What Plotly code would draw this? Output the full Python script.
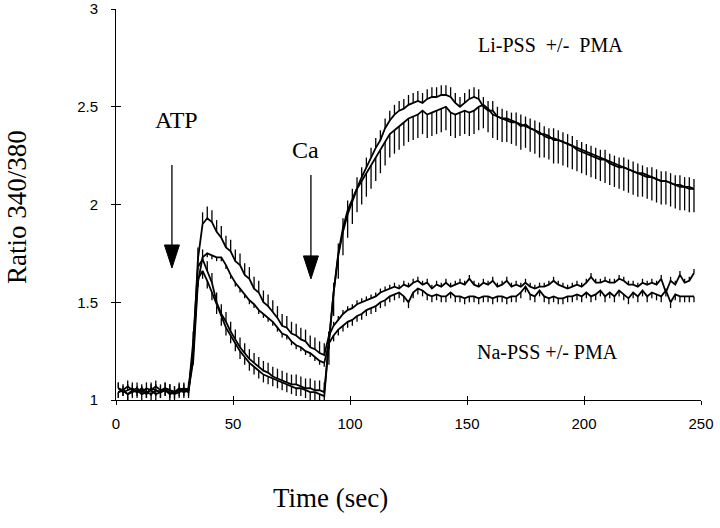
import numpy as np
import plotly.graph_objects as go

# ---------------- data (ratio 340/380, sampled every 2 s) ----------------
# segment start times (s)
seg_start = {"base": 1, "atp": 33, "ca": 91}

# Na-PSS, trace 1 (higher ATP peak, upper plateau)
na1_base = [1.06, 1.05, 1.07, 1.05, 1.06, 1.04, 1.06, 1.05, 1.07, 1.05, 1.06, 1.05, 1.04, 1.06, 1.05, 1.06]
na1_atp = [1.25, 1.72, 1.90, 1.93, 1.91, 1.86, 1.83, 1.78, 1.76, 1.71, 1.69, 1.64, 1.62, 1.57, 1.55,
           1.50, 1.48, 1.45, 1.42, 1.38, 1.37, 1.34, 1.33, 1.31, 1.30, 1.27, 1.26, 1.24, 1.23]
na1_ca = [1.33, 1.38, 1.41, 1.44, 1.46, 1.47, 1.49, 1.50, 1.51, 1.52, 1.53, 1.55, 1.56, 1.57, 1.58,
          1.57, 1.59, 1.58, 1.60, 1.61, 1.59, 1.60, 1.57, 1.59, 1.58, 1.60, 1.58, 1.59, 1.60, 1.59,
          1.62, 1.59, 1.58, 1.60, 1.59, 1.61, 1.58, 1.59, 1.61, 1.58, 1.59, 1.58, 1.60, 1.58, 1.57,
          1.58, 1.58, 1.59, 1.61, 1.59, 1.58, 1.57, 1.58, 1.59, 1.58, 1.60, 1.63, 1.60, 1.60, 1.61,
          1.60, 1.60, 1.62, 1.61, 1.59, 1.59, 1.58, 1.60, 1.59, 1.60, 1.59, 1.62, 1.55, 1.61, 1.59,
          1.64, 1.60, 1.61, 1.65]

# Na-PSS, trace 2
na2_base = [1.04, 1.05, 1.03, 1.05, 1.04, 1.06, 1.04, 1.03, 1.05, 1.04, 1.05, 1.03, 1.04, 1.05, 1.04, 1.05]
na2_atp = [1.20, 1.60, 1.73, 1.75, 1.74, 1.73, 1.73, 1.69, 1.64, 1.60, 1.57, 1.54, 1.51, 1.49, 1.46,
           1.44, 1.42, 1.40, 1.37, 1.34, 1.33, 1.30, 1.28, 1.27, 1.25, 1.24, 1.22, 1.20, 1.19]
na2_ca = [1.29, 1.33, 1.36, 1.38, 1.40, 1.41, 1.43, 1.44, 1.46, 1.47, 1.48, 1.50, 1.51, 1.53, 1.54,
          1.55, 1.53, 1.50, 1.55, 1.57, 1.56, 1.54, 1.53, 1.54, 1.53, 1.53, 1.55, 1.53, 1.53, 1.52,
          1.53, 1.53, 1.52, 1.53, 1.53, 1.52, 1.53, 1.53, 1.52, 1.53, 1.53, 1.55, 1.58, 1.54, 1.53,
          1.56, 1.53, 1.52, 1.53, 1.52, 1.52, 1.53, 1.53, 1.54, 1.53, 1.55, 1.53, 1.54, 1.56, 1.53,
          1.55, 1.53, 1.56, 1.54, 1.52, 1.55, 1.53, 1.56, 1.53, 1.55, 1.54, 1.53, 1.56, 1.50, 1.54,
          1.53, 1.53, 1.53, 1.53]

# Li-PSS, trace 1 (upper Ca plateau)
li1_base = [1.06, 1.04, 1.05, 1.06, 1.04, 1.05, 1.03, 1.06, 1.05, 1.04, 1.06, 1.05, 1.04, 1.05, 1.06, 1.05]
li1_atp = [1.30, 1.68, 1.72, 1.66, 1.60, 1.50, 1.44, 1.40, 1.35, 1.31, 1.27, 1.24, 1.21, 1.19, 1.17,
           1.15, 1.14, 1.12, 1.11, 1.10, 1.09, 1.08, 1.08, 1.07, 1.06, 1.06, 1.05, 1.05, 1.04]
li1_ca = [1.30, 1.55, 1.75, 1.88, 1.97, 2.03, 2.09, 2.14, 2.19, 2.24, 2.29, 2.33, 2.39, 2.43, 2.46,
          2.48, 2.49, 2.51, 2.52, 2.53, 2.52, 2.54, 2.55, 2.55, 2.56, 2.56, 2.55, 2.52, 2.50, 2.52,
          2.54, 2.55, 2.54, 2.50, 2.48, 2.48, 2.45, 2.44, 2.43, 2.42, 2.42, 2.41, 2.40, 2.39, 2.38,
          2.37, 2.35, 2.34, 2.34, 2.33, 2.32, 2.31, 2.30, 2.28, 2.27, 2.26, 2.25, 2.24, 2.23, 2.23,
          2.21, 2.20, 2.19, 2.19, 2.18, 2.17, 2.16, 2.15, 2.14, 2.14, 2.13, 2.12, 2.12, 2.11, 2.10,
          2.10, 2.09, 2.09, 2.08]

# Li-PSS, trace 2 (lower Ca plateau)
li2_base = [1.04, 1.05, 1.03, 1.04, 1.05, 1.03, 1.04, 1.05, 1.03, 1.04, 1.05, 1.04, 1.03, 1.04, 1.05, 1.04]
li2_atp = [1.25, 1.62, 1.66, 1.61, 1.55, 1.48, 1.42, 1.37, 1.33, 1.29, 1.25, 1.22, 1.19, 1.17, 1.15,
           1.13, 1.12, 1.11, 1.10, 1.09, 1.08, 1.07, 1.06, 1.06, 1.05, 1.04, 1.04, 1.03, 1.02]
li2_ca = [1.30, 1.55, 1.74, 1.86, 1.95, 2.02, 2.08, 2.12, 2.16, 2.20, 2.24, 2.28, 2.32, 2.36, 2.38,
          2.40, 2.42, 2.44, 2.45, 2.46, 2.48, 2.46, 2.47, 2.48, 2.49, 2.50, 2.47, 2.46, 2.47, 2.48,
          2.47, 2.48, 2.50, 2.51, 2.49, 2.46, 2.45, 2.44, 2.44, 2.43, 2.42, 2.40, 2.41, 2.39, 2.38,
          2.36, 2.36, 2.35, 2.33, 2.33, 2.32, 2.31, 2.30, 2.29, 2.28, 2.27, 2.26, 2.25, 2.24, 2.23,
          2.22, 2.21, 2.20, 2.19, 2.18, 2.17, 2.16, 2.16, 2.15, 2.14, 2.13, 2.12, 2.12, 2.11, 2.10,
          2.09, 2.09, 2.08, 2.08]

# error bar sizes per segment (base, atp, ca): upward and downward
na1_err_up = [0.03, 0.06, 0.02]
na1_err_dn = [0.0, 0.0, 0.0]
na2_err_up = [0.0, 0.0, 0.0]
na2_err_dn = [0.03, 0.02, 0.03]
li1_err_up = [0.03, 0.05, 0.05]
li1_err_dn = [0.0, 0.0, 0.0]
li2_err_up = [0.0, 0.0, 0.0]
li2_err_dn = [0.03, 0.04, 0.12]

x_ticks = [0, 50, 100, 150, 200, 250]
y_ticks = [1, 1.5, 2, 2.5, 3]
y_tick_text = ["1", "1.5", "2", "2.5", "3"]


def assemble(base, atp, ca, up, dn):
    t, v, eu, ed = [], [], [], []
    for seg, vals, u, d in (("base", base, up[0], dn[0]), ("atp", atp, up[1], dn[1]), ("ca", ca, up[2], dn[2])):
        t0 = seg_start[seg]
        for k, val in enumerate(vals):
            t.append(t0 + 2 * k)
            v.append(val)
            eu.append(u)
            ed.append(d)
    return t, v, eu, ed


series = [
    assemble(na1_base, na1_atp, na1_ca, na1_err_up, na1_err_dn),
    assemble(na2_base, na2_atp, na2_ca, na2_err_up, na2_err_dn),
    assemble(li1_base, li1_atp, li1_ca, li1_err_up, li1_err_dn),
    assemble(li2_base, li2_atp, li2_ca, li2_err_up, li2_err_dn),
]

fig = go.Figure()
for t, v, eu, ed in series:
    fig.add_trace(go.Scatter(
        x=t, y=v, mode="lines",
        line=dict(color="black", width=1.8),
        error_y=dict(type="data", symmetric=False, array=eu, arrayminus=ed,
                     color="black", thickness=1.3, width=0, visible=True),
        showlegend=False, hoverinfo="skip",
    ))

# dummy trace to show the overlay axes that carry the inner tick halves
fig.add_trace(go.Scatter(x=[None], y=[None], xaxis="x2", yaxis="y2", showlegend=False, hoverinfo="skip"))

serif = "Liberation Serif, Times New Roman, serif"
sans = "Liberation Sans, Arial, sans-serif"

fig.update_layout(
    template="none",
    width=720, height=528,
    margin=dict(l=116, r=19, t=9, b=128, autoexpand=False),
    paper_bgcolor="white", plot_bgcolor="white",
    xaxis=dict(range=[0, 250], tickvals=x_ticks, ticks="outside", ticklen=4, tickwidth=1,
               tickcolor="black", showline=True, linecolor="black", linewidth=1,
               showgrid=False, zeroline=False, automargin=False,
               tickfont=dict(family=sans, size=15, color="black"), ticklabelstandoff=6),
    yaxis=dict(range=[1, 3], tickvals=y_ticks, ticktext=y_tick_text, ticks="outside", ticklen=4,
               tickwidth=1, tickcolor="black", showline=True, linecolor="black", linewidth=1,
               showgrid=False, zeroline=False, automargin=False,
               tickfont=dict(family=sans, size=15, color="black"), ticklabelstandoff=10),
    xaxis2=dict(range=[0, 250], overlaying="x", anchor="y", side="bottom", tickvals=x_ticks,
                ticks="inside", ticklen=4, tickwidth=1, tickcolor="black", showticklabels=False,
                showline=False, showgrid=False, zeroline=False, automargin=False),
    yaxis2=dict(range=[1, 3], overlaying="y", anchor="x", side="left", tickvals=y_ticks,
                ticks="inside", ticklen=5, tickwidth=1, tickcolor="black", showticklabels=False,
                showline=False, showgrid=False, zeroline=False, automargin=False),
)

annotations = [
    dict(text="Ratio 340/380", xref="paper", yref="paper", x=-0.169, y=0.494, textangle=-90,
         showarrow=False, font=dict(family=serif, size=27, color="black"),
         xanchor="center", yanchor="middle"),
    dict(text="Time (sec)", xref="paper", yref="paper", x=0.366, y=-0.251,
         showarrow=False, font=dict(family=serif, size=27, color="black"),
         xanchor="center", yanchor="middle"),
    dict(text="ATP", x=26, y=2.43, showarrow=False, font=dict(family=serif, size=24, color="black")),
    dict(text="Ca", x=80.8, y=2.28, showarrow=False, font=dict(family=serif, size=24, color="black")),
    dict(text="Li-PSS  +/-  PMA", x=185.5, y=2.816, showarrow=False,
         font=dict(family=serif, size=20, color="black")),
    dict(text="Na-PSS +/- PMA", x=184.6, y=1.246, showarrow=False,
         font=dict(family=serif, size=20, color="black")),
]
fig.update_layout(annotations=annotations)

# event arrows (ATP at ~24 s, Ca at ~83 s): shaft + filled triangular head
arrows = [(23.9, 2.202, 1.793, 1.675), (83.3, 2.151, 1.737, 1.619)]
shapes = []
for ax_, top, head_base, tip in arrows:
    shapes.append(dict(type="line", xref="x", yref="y", x0=ax_, x1=ax_, y0=top, y1=head_base,
                       line=dict(color="black", width=1.3)))
    shapes.append(dict(type="path", xref="x", yref="y",
                       path=f"M {ax_-3.2},{head_base} L {ax_+3.2},{head_base} L {ax_},{tip} Z",
                       fillcolor="black", line=dict(color="black", width=1)))
fig.update_layout(shapes=shapes)

# remove the default page margin so the figure sits at the window's top-left corner
fig.write_html("out.html", config={"displayModeBar": False},
               post_script="document.body.style.margin='0';")
